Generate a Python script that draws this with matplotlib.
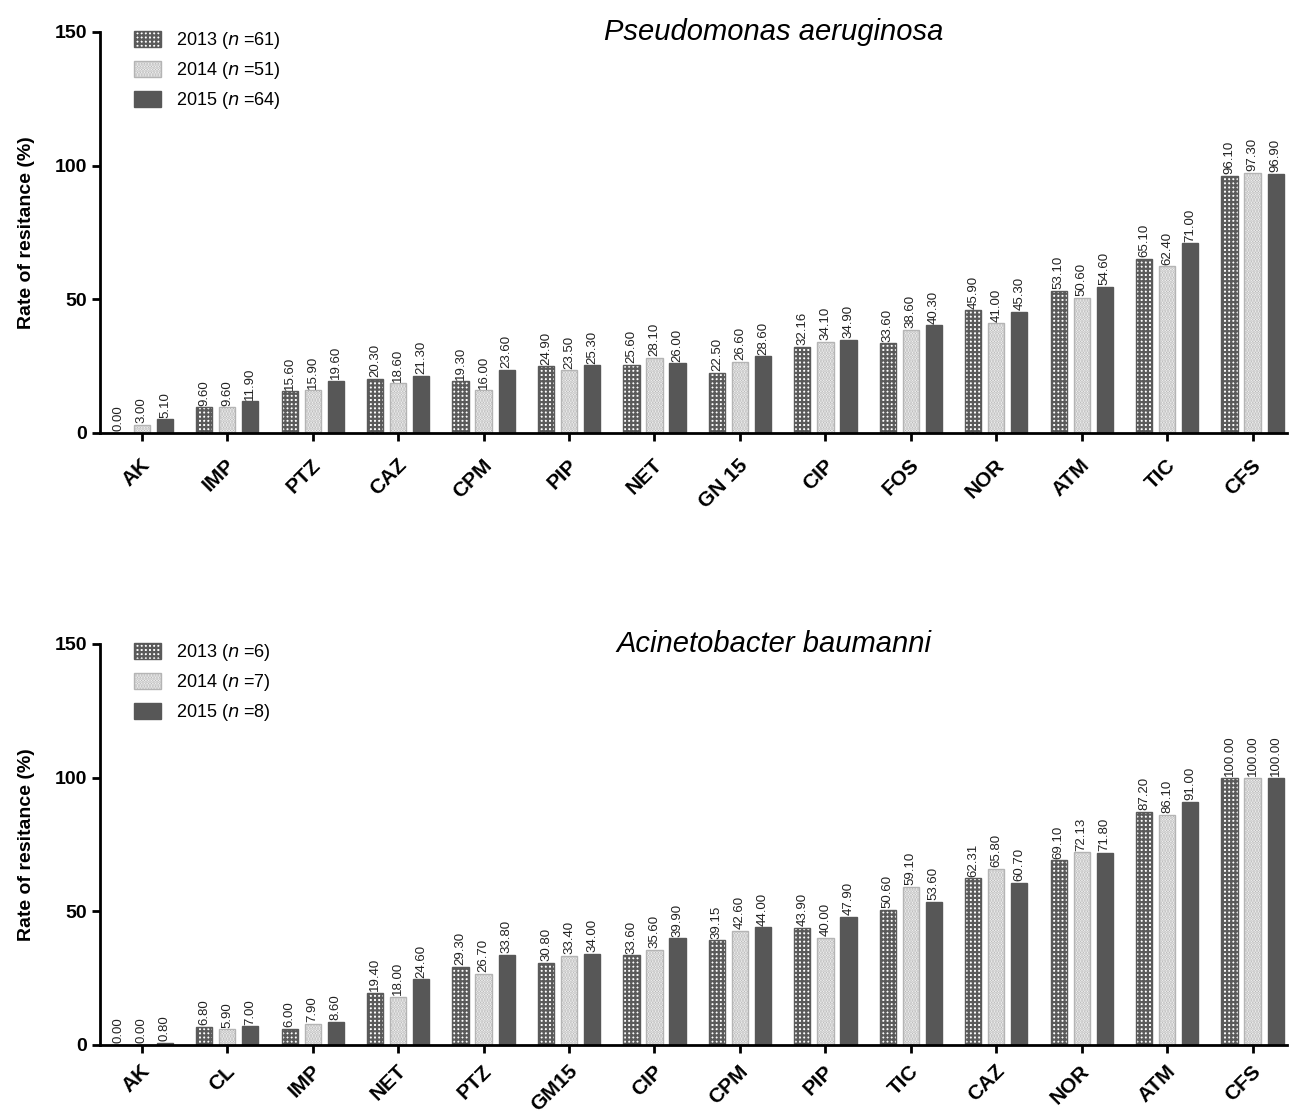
import numpy as np
import matplotlib
matplotlib.use("Agg")
import matplotlib.pyplot as plt
import matplotlib.transforms as mtransforms

plt.rcParams["font.family"] = ["Liberation Sans", "DejaVu Sans"]
plt.rcParams["hatch.linewidth"] = 1.6

# ── data ───────────────────────────────────────────────────────────────────
PA_CATS = ["AK", "IMP", "PTZ", "CAZ", "CPM", "PIP", "NET", "GN 15", "CIP",
           "FOS", "NOR", "ATM", "TIC", "CFS"]
PA_2013 = [0.00, 9.60, 15.60, 20.30, 19.30, 24.90, 25.60, 22.50, 32.16, 33.60,
           45.90, 53.10, 65.10, 96.10]
PA_2014 = [3.00, 9.60, 15.90, 18.60, 16.00, 23.50, 28.10, 26.60, 34.10, 38.60,
           41.00, 50.60, 62.40, 97.30]
PA_2015 = [5.10, 11.90, 19.60, 21.30, 23.60, 25.30, 26.00, 28.60, 34.90, 40.30,
           45.30, 54.60, 71.00, 96.90]
PA_N = [61, 51, 64]

AB_CATS = ["AK", "CL", "IMP", "NET", "PTZ", "GM15", "CIP", "CPM", "PIP",
           "TIC", "CAZ", "NOR", "ATM", "CFS"]
AB_2013 = [0.00, 6.80, 6.00, 19.40, 29.30, 30.80, 33.60, 39.15, 43.90, 50.60,
           62.31, 69.10, 87.20, 100.00]
AB_2014 = [0.00, 5.90, 7.90, 18.00, 26.70, 33.40, 35.60, 42.60, 40.00, 59.10,
           65.80, 72.13, 86.10, 100.00]
AB_2015 = [0.80, 7.00, 8.60, 24.60, 33.80, 34.00, 39.90, 44.00, 47.90, 53.60,
           60.70, 71.80, 91.00, 100.00]
AB_N = [6, 7, 8]

YEARS = ["2013", "2014", "2015"]

# ── styles ─────────────────────────────────────────────────────────────────
STYLES = [
    dict(facecolor="white", edgecolor="#5a5a5a", hatch="++++"),
    dict(facecolor="white", edgecolor="#b4b4b4", hatch="......"),
    dict(facecolor="#575757", edgecolor="#575757", hatch=None),
]
OFFSETS = [-0.27, 0.0, 0.27]
WIDTH = 0.19


def draw_panel(fig, rect, cats, series, ns, title, drop):
    ax = fig.add_axes(rect)
    x = np.arange(len(cats))
    handles = []
    for vals, off, st, yr, n in zip(series, OFFSETS, STYLES, YEARS, ns):
        bars = ax.bar(x + off, vals, WIDTH, linewidth=1.0,
                      label=f"{yr} ($n$ ={n})", **st)
        handles.append(bars)
        for xi, v in zip(x + off, vals):
            ax.text(xi, v + 0.6, f"{v:.2f}", rotation=90, ha="center",
                    va="bottom", fontsize=9.5, color="#222222")

    ax.set_xlim(-0.49, 13.4)
    ax.set_ylim(0, 150)
    for side in ["top", "right"]:
        ax.spines[side].set_visible(False)
    for side in ["left", "bottom"]:
        ax.spines[side].set_linewidth(2.0)
    ax.tick_params(axis="both", width=2.0, length=6, direction="out")
    ax.tick_params(axis="x", pad=2)

    ax.set_yticks([0, 50, 100, 150])
    ax.set_yticklabels(["0", "50", "100", "150"], fontsize=14,
                       fontweight="bold")
    ax.set_xticks(x)
    ax.set_xticklabels(cats, rotation=45, ha="right", va="center",
                       rotation_mode="anchor", fontsize=15, fontweight="bold")
    # push the slanted labels down and a bit right, like the original
    shift = mtransforms.ScaledTranslation(5 / 100, -drop / 100,
                                          fig.dpi_scale_trans)
    for lab in ax.get_xticklabels():
        lab.set_transform(lab.get_transform() + shift)

    ax.set_ylabel("Rate of resitance (%)", fontsize=14, fontweight="bold",
                  labelpad=14)

    ax.text(0.568, 1.0, title, transform=ax.transAxes, ha="center",
            va="center", fontsize=21, style="italic")
    ax.legend(handles=handles, loc="upper left", bbox_to_anchor=(0.015, 1.045),
              frameon=False, fontsize=13, handlelength=1.5, handleheight=1.0,
              labelspacing=0.5, handletextpad=0.8)
    return ax


fig = plt.figure(figsize=(12.9, 11.17), dpi=100)
draw_panel(fig, [0.0775, 0.6124, 0.92, 0.359], PA_CATS,
           [PA_2013, PA_2014, PA_2015], PA_N, "Pseudomonas aeruginosa", 18)
draw_panel(fig, [0.0775, 0.0645, 0.92, 0.359], AB_CATS,
           [AB_2013, AB_2014, AB_2015], AB_N, "Acinetobacter baumanni", 12)

fig.savefig("out.png", dpi=100)
